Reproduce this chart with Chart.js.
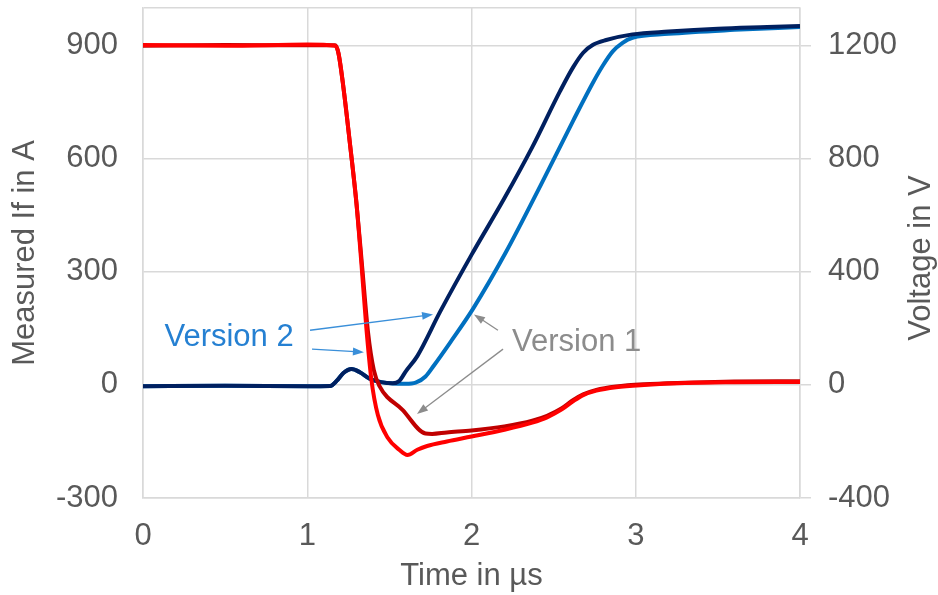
<!DOCTYPE html>
<html>
<head>
<meta charset="utf-8">
<script src="https://cdn.jsdelivr.net/npm/chart.js@4.4.0/dist/chart.umd.min.js"></script>
<style>
  body { margin: 0; background: #ffffff; }
  canvas { display: block; }
</style>
</head>
<body>
<canvas id="chart" width="938" height="595"></canvas>
<script>
// Time axis in µs, current in A (left axis), voltage in V (right axis)
const xTicks = [0, 1, 2, 3, 4];
const currentTicks = [-300, 0, 300, 600, 900];
const voltageTicks = [-400, 0, 400, 800, 1200];

// Measured If - Version 2 (bright red)
const tCurV2 = [0, 0.5, 1.0, 1.17, 1.19, 1.22, 1.26, 1.30, 1.33, 1.36, 1.39, 1.43, 1.49, 1.56, 1.61, 1.67, 1.73, 1.85, 2.0, 2.2, 2.37, 2.46, 2.55, 2.62, 2.68, 2.76, 2.88, 3.05, 3.3, 3.6, 4.0];
const iCurV2 = [902, 900, 903, 900, 880, 790, 640, 480, 320, 150, 16, -80, -140, -172, -186, -172, -162, -150, -137, -119, -100, -86, -65, -43, -27, -15, -6, 0, 5, 7, 8];

// Measured If - Version 1 (dark red)
const tCurV1 = [0, 0.5, 1.0, 1.17, 1.19, 1.22, 1.26, 1.30, 1.335, 1.37, 1.405, 1.44, 1.58, 1.72, 1.76, 1.85, 2.0, 2.2, 2.37, 2.46, 2.55, 2.62, 2.68, 2.76, 2.88, 3.05, 3.3, 3.6, 4.0];
const iCurV1 = [900, 902, 901, 901, 880, 790, 640, 480, 310, 140, 40, -3, -66, -129, -130, -126, -121, -110, -95, -82, -62, -40, -25, -13, -4, 2, 6, 9, 10];

// Voltage - Version 2 (navy)
const tVoltV2 = [0, 0.5, 1.0, 1.14, 1.18, 1.22, 1.27, 1.32, 1.38, 1.45, 1.52, 1.56, 1.60, 1.67, 1.81, 2.0, 2.2, 2.37, 2.54, 2.62, 2.68, 2.74, 2.82, 2.98, 3.2, 3.5, 3.8, 4.0];
const vVoltV2 = [-5, -3, -5, -4, 15, 42, 56, 45, 22, 10, 6, 14, 48, 102, 260, 460, 660, 841, 1040, 1125, 1175, 1203, 1220, 1240, 1250, 1260, 1266, 1270];

// Voltage - Version 1 (light blue)
const tVoltV1 = [0, 0.5, 1.0, 1.14, 1.18, 1.22, 1.27, 1.32, 1.38, 1.45, 1.52, 1.60, 1.66, 1.72, 1.77, 1.87, 2.01, 2.21, 2.42, 2.62, 2.74, 2.80, 2.86, 2.92, 2.98, 3.2, 3.6, 4.0];
const vVoltV1 = [-5, -3, -5, -4, 15, 42, 56, 45, 22, 10, 5, 4, 8, 30, 68, 150, 270, 470, 705, 936, 1070, 1130, 1180, 1210, 1228, 1242, 1256, 1266];

const textColor = '#595959';
const gridColor = '#d9d9d9';
const axisFont = { family: 'Liberation Sans, Arial, sans-serif', size: 31 };

function toPoints(xs, ys) {
    return xs.map((x, i) => ({ x: x, y: ys[i] }));
}

// annotation arrows, in data units (time, current)
const v2Arrows = [[1.017, 145, 1.766, 187], [1.029, 95, 1.345, 87]];
const v1Arrows = [[2.161, 145, 2.015, 187], [2.192, 95, 1.668, -77]];

function drawArrow(c, x1, y1, x2, y2, color) {
    const ang = Math.atan2(y2 - y1, x2 - x1);
    const len = 11, half = 4;
    c.strokeStyle = color;
    c.fillStyle = color;
    c.lineWidth = 1.3;
    c.beginPath();
    c.moveTo(x1, y1);
    c.lineTo(x2 - Math.cos(ang) * len * 0.8, y2 - Math.sin(ang) * len * 0.8);
    c.stroke();
    c.beginPath();
    c.moveTo(x2, y2);
    c.lineTo(x2 - Math.cos(ang) * len - Math.sin(ang) * half, y2 - Math.sin(ang) * len + Math.cos(ang) * half);
    c.lineTo(x2 - Math.cos(ang) * len + Math.sin(ang) * half, y2 - Math.sin(ang) * len - Math.cos(ang) * half);
    c.closePath();
    c.fill();
}

const annotations = {
    id: 'annotations',
    afterDatasetsDraw(chart) {
        const c = chart.ctx;
        const sx = chart.scales.x, sy = chart.scales.y;
        c.save();
        v2Arrows.forEach(a => drawArrow(c, sx.getPixelForValue(a[0]), sy.getPixelForValue(a[1]), sx.getPixelForValue(a[2]), sy.getPixelForValue(a[3]), '#3a8fd9'));
        v1Arrows.forEach(a => drawArrow(c, sx.getPixelForValue(a[0]), sy.getPixelForValue(a[1]), sx.getPixelForValue(a[2]), sy.getPixelForValue(a[3]), '#8c8c8c'));
        c.font = '31px Liberation Sans, Arial, sans-serif';
        c.textAlign = 'center';
        c.textBaseline = 'middle';
        c.fillStyle = '#2580d2';
        c.fillText('Version 2', sx.getPixelForValue(0.524), sy.getPixelForValue(127));
        c.fillStyle = '#8c8c8c';
        c.fillText('Version 1', sx.getPixelForValue(2.64), sy.getPixelForValue(113));
        c.restore();
    },
    afterDraw(chart) {
        // axis titles
        const c = chart.ctx;
        const area = chart.chartArea;
        c.save();
        c.font = '31px Liberation Sans, Arial, sans-serif';
        c.fillStyle = textColor;
        c.textAlign = 'center';
        c.textBaseline = 'middle';
        c.fillText('Time in µs', (area.left + area.right) / 2, 576);
        c.translate(25, (area.top + area.bottom) / 2);
        c.rotate(-Math.PI / 2);
        c.fillText('Measured If in A', 0, 0);
        c.restore();
        c.save();
        c.font = '31px Liberation Sans, Arial, sans-serif';
        c.fillStyle = textColor;
        c.textAlign = 'center';
        c.textBaseline = 'middle';
        c.translate(921, (area.top + area.bottom) / 2 + 5);
        c.rotate(-Math.PI / 2);
        c.fillText('Voltage in V', 0, 0);
        c.restore();
    }
};

const lineStyle = { fill: false, pointRadius: 0, borderWidth: 4, cubicInterpolationMode: 'monotone' };

function fitVertical(width) {
    return s => { s.width = width; s.paddingTop = 0; s.paddingBottom = 0; };
}

new Chart(document.getElementById('chart'), {
    type: 'line',
    data: {
        datasets: [
            Object.assign({ label: 'If Version 2', data: toPoints(tCurV2, iCurV2), borderColor: '#ff0000', yAxisID: 'y', order: 1 }, lineStyle),
            Object.assign({ label: 'If Version 1', data: toPoints(tCurV1, iCurV1), borderColor: '#c00000', yAxisID: 'y', order: 2 }, lineStyle),
            Object.assign({ label: 'V Version 2', data: toPoints(tVoltV2, vVoltV2), borderColor: '#002060', yAxisID: 'y2', order: 3 }, lineStyle),
            Object.assign({ label: 'V Version 1', data: toPoints(tVoltV1, vVoltV1), borderColor: '#0070c0', yAxisID: 'y2', order: 4 }, lineStyle)
        ]
    },
    options: {
        responsive: false,
        animation: false,
        layout: { padding: { top: 8, left: 0, right: 0, bottom: 0 } },
        plugins: { legend: { display: false }, tooltip: { enabled: false } },
        scales: {
            x: {
                type: 'linear', min: xTicks[0], max: xTicks[xTicks.length - 1],
                afterBuildTicks: s => { s.ticks = xTicks.map(v => ({ value: v })); },
                ticks: { color: textColor, font: axisFont, padding: 20, maxRotation: 0 },
                grid: { color: gridColor, lineWidth: 1.5, drawTicks: false },
                border: { color: gridColor, width: 1.5 },
                afterFit: s => { s.height = 97; s.paddingLeft = 0; s.paddingRight = 0; }
            },
            y: {
                position: 'left', min: -300, max: 1000,
                afterBuildTicks: s => { s.ticks = currentTicks.concat([1000]).map(v => ({ value: v })); },
                ticks: { color: textColor, font: axisFont, padding: 25, callback: v => currentTicks.includes(v) ? String(v) : '' },
                grid: { color: gridColor, lineWidth: 1.5, drawTicks: false },
                border: { color: gridColor, width: 1.5 },
                afterFit: fitVertical(143)
            },
            y2: {
                position: 'right', min: -400, max: 4000 / 3,
                afterBuildTicks: s => { s.ticks = voltageTicks.map(v => ({ value: v })); },
                ticks: { color: textColor, font: axisFont, padding: 17, callback: v => String(v) },
                grid: { drawOnChartArea: false, color: gridColor, tickLength: 11, lineWidth: 1.5 },
                border: { color: gridColor, width: 1.5 },
                afterFit: fitVertical(138)
            }
        }
    },
    plugins: [annotations]
});
</script>
</body>
</html>
